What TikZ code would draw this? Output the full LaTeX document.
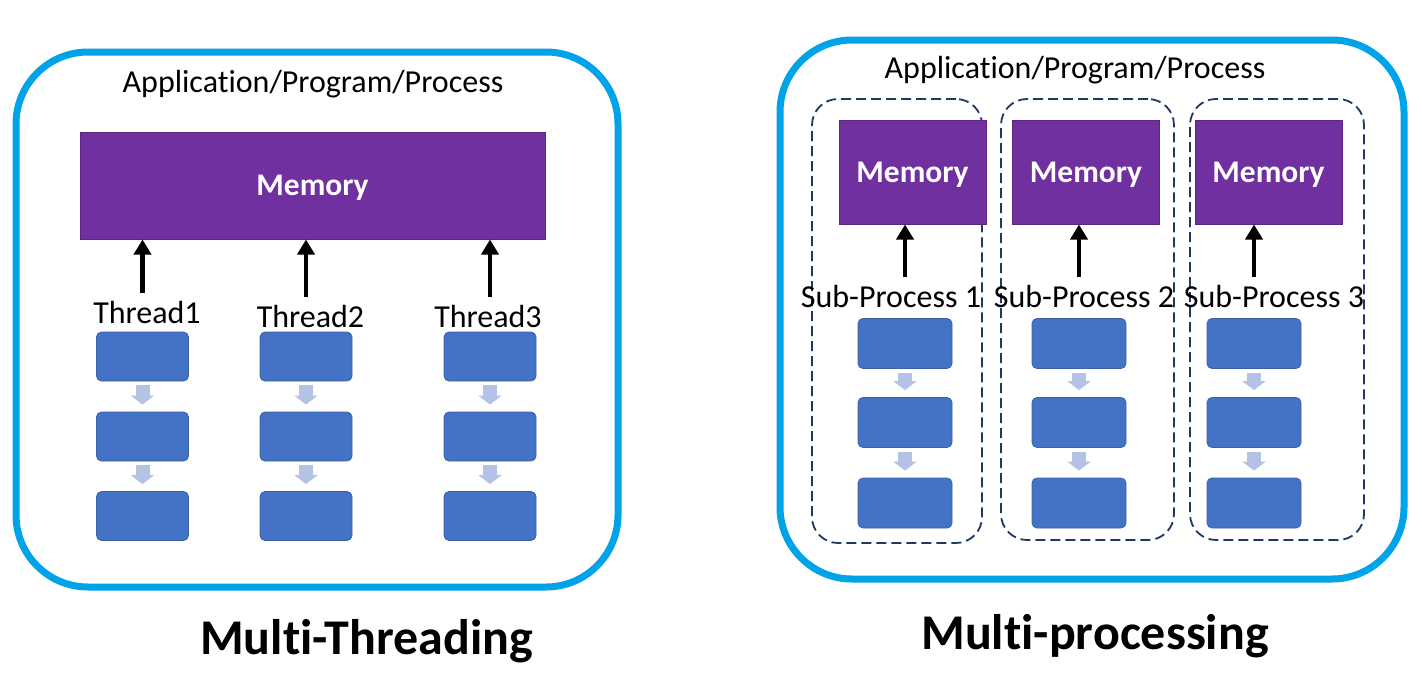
\documentclass[tikz,border=0pt]{standalone}
\usepackage{fontspec}
\setmainfont{Carlito}[Ligatures=NoCommon]
\usetikzlibrary{arrows.meta,positioning}
\definecolor{mpcyan}{RGB}{0,162,232}
\definecolor{mppurple}{RGB}{112,48,160}
\definecolor{mpblue}{RGB}{68,114,196}
\definecolor{mpstep}{RGB}{180,194,230}
\definecolor{mpnavy}{RGB}{31,56,100}
\tikzset{
  procbox/.style={
    rectangle, draw=mpcyan, line width=7pt, rounded corners=72pt
  },
  subbox/.style={
    rectangle, draw=mpnavy, line width=1.8pt,
    dash pattern=on 10pt off 5pt, rounded corners=26pt
  },
  membox/.style={
    rectangle, draw=mppurple!80!black, line width=1pt, fill=mppurple,
    text=white, text depth=0pt, font=\fontsize{31.5}{36}\selectfont\bfseries
  },
  taskbox/.style={
    rectangle, rounded corners=5pt, draw=mpblue!85!black, line width=0.8pt,
    fill=mpblue, minimum width=92pt, minimum height=49pt
  },
  steparrow/.style={-{Triangle[length=9pt,width=23pt]}, line width=14pt,
    mpstep, shorten <=4pt, shorten >=7pt},
  memarrow/.style={-{Triangle[length=15pt,width=17pt]}, line width=4.5pt},
  lbl/.style={font=\fontsize{32}{38}\selectfont, anchor=base,
    inner xsep=0pt, inner ysep=8pt},
  titlelbl/.style={font=\fontsize{50}{58}\selectfont\bfseries, anchor=base,
    inner sep=0pt}
}

\begin{document}
\begin{tikzpicture}[x=1pt, y=-1pt]
  \useasboundingbox[fill=white] (0,0) rectangle (1422,694);

  % Multi-threading side
  \node[procbox, minimum width=602pt, minimum height=535pt] (mtproc) at (317,319.5) {};
  \node[lbl] (mtapp) at (313,92) {Application/Program/Process};
  \node[membox, minimum width=465pt, minimum height=107pt] (mtmem) at (312.5,185.5) {Memory};

  \foreach \c/\x/\xl/\yb in {1/142.5/147/323, 2/306/310.5/327, 3/490/488/327} {
    \node[lbl] (thr\c) at (\xl,\yb) {Thread\c};
    \node[taskbox] (thr\c a) at (\x,356.5) {};
    \node[taskbox] (thr\c b) at (\x,436.5) {};
    \node[taskbox] (thr\c c) at (\x,516) {};
    \draw[memarrow] (thr\c.north -| thr\c a) -- (mtmem.south -| thr\c a);
    \draw[steparrow] (thr\c a) -- (thr\c b);
    \draw[steparrow] (thr\c b) -- (thr\c c);
  }

  \node[titlelbl] (mttitle) at (366.5,654) {Multi-Threading};

  % Multi-processing side
  \node[procbox, minimum width=624pt, minimum height=539pt] (mpproc) at (1092,309.5) {};
  \node[lbl] (mpapp) at (1075,78) {Application/Program/Process};

  \node[subbox, minimum width=170pt, minimum height=444pt] (sub1box) at (897,321) {};
  \node[subbox, minimum width=173pt, minimum height=441pt] (sub2box) at (1087.5,319.5) {};
  \node[subbox, minimum width=174pt, minimum height=441pt] (sub3box) at (1277,319.5) {};

  \foreach \c/\x/\xm/\xl in {1/905/912.5/891, 2/1079/1086/1084, 3/1254/1268.5/1274} {
    \node[membox, minimum width=147pt, minimum height=104pt] (mpmem\c) at (\xm,172) {Memory};
    \node[lbl] (sub\c) at (\xl,307) {Sub-Process \c};
    \node[taskbox, minimum width=94pt, minimum height=50pt] (sub\c a) at (\x,343.5) {};
    \node[taskbox, minimum width=94pt, minimum height=50pt] (sub\c b) at (\x,422.5) {};
    \node[taskbox, minimum width=94pt, minimum height=50pt] (sub\c c) at (\x,503) {};
    \draw[memarrow] (sub\c.north -| sub\c a) -- (mpmem\c.south -| sub\c a);
    \draw[steparrow] (sub\c a) -- (sub\c b);
    \draw[steparrow] (sub\c b) -- (sub\c c);
  }

  \node[titlelbl] (mptitle) at (1095,649) {Multi-processing};
\end{tikzpicture}
\end{document}
